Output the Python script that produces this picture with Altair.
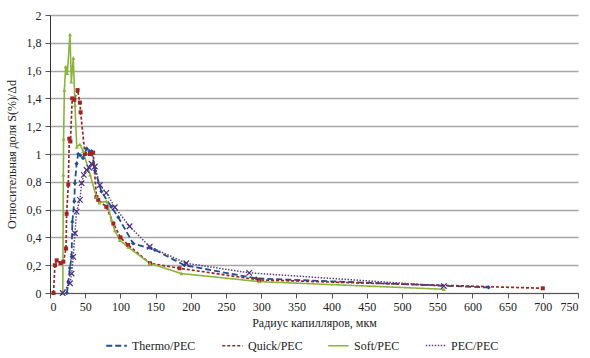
import altair as alt
import pandas as pd

series_names = ["Thermo/PEC", "Quick/PEC", "Soft/PEC", "PEC/PEC"]
series_colors = ["#1F4E96", "#A02424", "#8CB43C", "#5B3F8C"]
series_dashes = [[6, 3], [3, 2], [1, 0], [1.5, 1.5]]
series_widths = [1.8, 1.5, 2.0, 1.0]

thermo_x = [24, 26, 28.3, 30.7, 31.7, 34.5, 35.4, 37.8, 40, 43, 47, 52, 56, 59, 64, 73, 87, 97, 118, 149, 191, 293, 623]
thermo_y = [0, 0.08, 0.18, 0.26, 0.51, 0.66, 0.79, 0.93, 1.0, 0.99, 0.97, 1.04, 1.02, 1.02, 0.88, 0.73, 0.62, 0.545, 0.357, 0.31, 0.2, 0.105, 0.04]

quick_x = [5, 7, 9.5, 15, 19, 22.7, 23.6, 26, 27.4, 29, 31.6, 34.5, 39.2, 42.5, 43.5, 49.6, 56.7, 61.3, 66, 68.5, 80, 90, 100, 111, 142, 184, 297, 700]
quick_y = [0, 0.2, 0.235, 0.215, 0.225, 0.32, 0.57, 0.78, 1.11, 1.09, 1.40, 1.39, 1.46, 1.37, 1.3, 1.0, 1.0, 1.01, 0.69, 0.67, 0.62, 0.5, 0.4, 0.345, 0.214, 0.178, 0.094, 0.034]

soft_x = [18.2, 19, 19.3, 20.4, 22.3, 24.6, 28.4, 30.3, 33.1, 35.5, 38, 42.5, 47, 57, 66, 70, 80.5, 87.4, 92, 99, 111, 141.6, 186.5, 297, 559.5]
soft_y = [0, 0.85, 1.11, 1.46, 1.63, 1.58, 1.86, 1.52, 1.69, 1.35, 1.05, 1.07, 1.02, 0.85, 0.69, 0.65, 0.66, 0.525, 0.45, 0.38, 0.33, 0.214, 0.14, 0.082, 0.027]

pec_x = [18, 28.3, 30.7, 33, 35.4, 37.8, 42.5, 44.9, 48, 52, 56, 59, 63.7, 70.8, 80, 92, 113, 141.6, 193.6, 283, 559.5]
pec_y = [0, 0.07, 0.14, 0.26, 0.43, 0.585, 0.67, 0.79, 0.85, 0.885, 0.9, 0.93, 0.91, 0.777, 0.72, 0.617, 0.48, 0.333, 0.214, 0.145, 0.05]

x_ticks = list(range(0, 751, 50))
y_ticks = [0, 0.2, 0.4, 0.6, 0.8, 1.0, 1.2, 1.4, 1.6, 1.8, 2.0]

frames = []
for name, xs, ys in zip(series_names, [thermo_x, quick_x, soft_x, pec_x], [thermo_y, quick_y, soft_y, pec_y]):
    frames.append(pd.DataFrame({"r": xs, "v": ys, "series": name}))
df = pd.concat(frames, ignore_index=True)

FONT = "Liberation Serif"

x_enc = alt.X("r:Q", scale=alt.Scale(domain=[0, 750], nice=False),
              axis=alt.Axis(values=x_ticks, tickCount=len(x_ticks) + 5, title="Радиус капилляров, мкм",
                            grid=False, tickSize=5, labelPadding=3, titlePadding=5))
y_enc = alt.Y("v:Q", scale=alt.Scale(domain=[0, 2], nice=False),
              axis=alt.Axis(values=y_ticks, tickCount=len(y_ticks) + 5, title="Относительная доля S(%)/Δd",
                            labelExpr="replace(format(datum.value, '.1~f'), '.', ',')",
                            tickSize=5, labelPadding=4, titlePadding=8))

base = alt.Chart(df)

lines = base.mark_line(strokeJoin="round").encode(
    x=x_enc, y=y_enc,
    color=alt.Color("series:N", scale=alt.Scale(domain=series_names, range=series_colors),
                    legend=alt.Legend(title=None)),
    strokeDash=alt.StrokeDash("series:N", scale=alt.Scale(domain=series_names, range=series_dashes),
                              legend=alt.Legend(title=None)),
    strokeWidth=alt.StrokeWidth("series:N", scale=alt.Scale(domain=series_names, range=series_widths),
                                legend=None),
    order="r:Q",
)

pt_thermo = base.transform_filter(alt.datum.series == "Thermo/PEC").mark_point(
    shape="diamond", filled=True, size=18, color=series_colors[0], opacity=1).encode(x="r:Q", y="v:Q")
pt_quick = base.transform_filter(alt.datum.series == "Quick/PEC").mark_point(
    shape="square", filled=True, size=16, color=series_colors[1], opacity=1).encode(x="r:Q", y="v:Q")
pt_soft = base.transform_filter(alt.datum.series == "Soft/PEC").mark_point(
    shape="triangle-up", filled=True, size=16, color=series_colors[2], opacity=1).encode(x="r:Q", y="v:Q")
pt_pec = base.transform_filter(alt.datum.series == "PEC/PEC").mark_point(
    shape="M-1,-1L1,1M-1,1L1,-1", filled=False, size=30, strokeWidth=1.2,
    color="#4B2E83", opacity=1).encode(x="r:Q", y="v:Q")

chart = alt.layer(lines, pt_thermo, pt_quick, pt_soft, pt_pec).properties(
    width=528, height=278,
    autosize=alt.AutoSizeParams(type="none"),
    padding={"left": 50, "top": 15, "right": 12, "bottom": 65},
).configure_view(stroke=None).configure_axis(
    labelFont=FONT, titleFont=FONT, labelFontSize=12, titleFontSize=12,
    labelColor="#222", titleColor="#222", titleFontWeight="normal",
    domainColor="#555", tickColor="#555", gridColor="#A6A6A6", gridWidth=1.5,
).configure_axisY(
    domainColor="#333",
).configure_legend(
    orient="none", legendX=55, legendY=319, direction="horizontal",
    symbolType="stroke", symbolSize=420, symbolStrokeWidth=1.5,
    labelFont=FONT, labelFontSize=12, labelColor="#222", columnPadding=22,
    labelLimit=200,
)

chart.save("out.html", embed_options={"renderer": "svg", "actions": False})
